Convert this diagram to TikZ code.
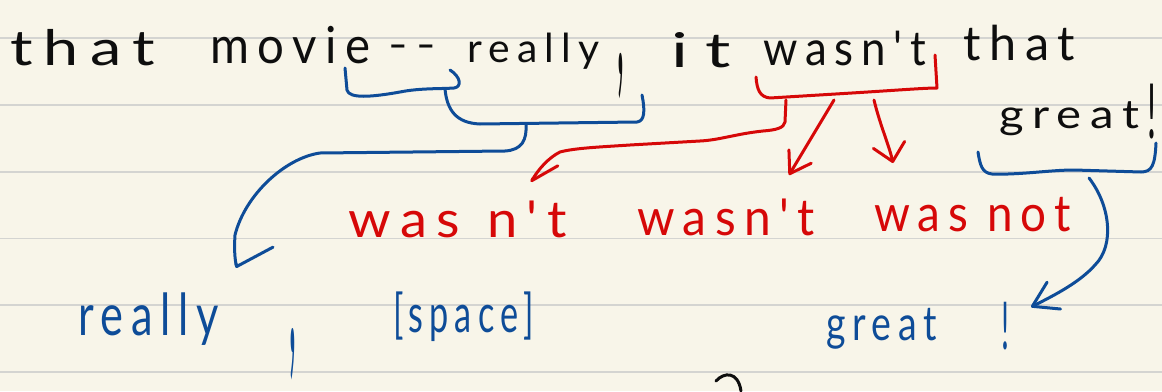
\documentclass[tikz,border=0pt]{standalone}
\usepackage{fontspec}
\usepackage{graphicx}
\usetikzlibrary{arrows.meta}
\newfontfamily\hand[LetterSpace=18]{Lato}
\newfontfamily\handp{Lato}
\definecolor{paper}{RGB}{248,245,233}
\definecolor{rulegray}{RGB}{212,212,209}
\definecolor{ink}{RGB}{14,14,14}
\definecolor{penred}{RGB}{214,8,8}
\definecolor{penblue}{RGB}{14,76,152}
% word stretched horizontally to a given width (pt) at a given font size (pt)
\newcommand\hw[3]{\resizebox{#1pt}{\height}{\hand\fontsize{#2pt}{#2pt}\selectfont #3}}
% tall, thin punctuation marks
\newcommand\bigcomma[1]{\scalebox{0.5}[#1]{\handp\fontsize{60pt}{60pt}\selectfont ,}}
\newcommand\thinbang[2]{\resizebox{#1pt}{\height}{\handp\fontsize{#2pt}{#2pt}\selectfont !}}
\tikzset{
  word/.style={inner sep=0pt, outer sep=0pt, anchor=base west},
  blk/.style={word, text=ink},
  rd/.style={word, text=penred},
  bl/.style={word, text=penblue},
  pen/.style={line width=3pt, line cap=round, line join=round},
  bluepen/.style={pen, draw=penblue},
  redpen/.style={pen, draw=penred},
  blackpen/.style={pen, draw=ink},
  ruled/.style={draw=rulegray, line width=1.6pt},
}
\begin{document}
\begin{tikzpicture}[x=1pt,y=-1pt]
\useasboundingbox (0,0) rectangle (1162,391);
\fill[paper] (0,0) rectangle (1162,391);
% notebook rules
\foreach \yy in {38,105,172,238.5,305,372} \draw[ruled] (0,\yy) -- (1162,\yy);

% the sentence
\node[blk] (that1) at (10,65) {\hw{145}{49}{that}};
\node[blk] (movie) at (210,63) {\hw{160}{51}{movie}};
\node[blk, anchor=center] (dash) at (412,52) {\hw{48}{40}{{-}\,{-}}};
\node[blk] (really1) at (467,62) {\hw{133}{40}{really}};
\node[blk, anchor=base] (comma1) at (621,74) {\bigcomma{3}};
\node[blk] (it) at (671,67) {\hw{60}{48}{i\hspace{0.25em}t}};
\node[blk] (wasnt) at (763,65) {\hw{163}{48}{wasn't}};
\node[blk] (that2) at (963,60) {\hw{112}{48}{that}};
\node[blk] (great1) at (999,128) {\hw{140}{40}{great}};
\node[blk, anchor=base] (bang1) at (1152,138) {\thinbang{9}{76}};

% red alternatives
\node[rd] (opt1) at (348,237) {\hw{219}{51}{was\hspace{0.5em}n't}};
\node[rd] (opt2) at (637,235) {\hw{178}{51}{wasn't}};
\node[rd] (opt3) at (874,231) {\hw{197}{51}{was\hspace{0.4em}not}};

% blue tokens
\node[bl] (really2) at (78,335) {\hw{141}{58}{really}};
\node[bl, anchor=base] (comma2) at (293,352) {\bigcomma{3.4}};
\node[bl] (space) at (393,332) {\hw{141}{53}{[space]}};
\node[bl] (great2) at (826,340) {\hw{111}{48}{great}};
\node[bl, anchor=base] (bang2) at (1005,349) {\thinbang{8}{66}};

% bracket points and arrow tips
\coordinate (bA) at (445,89);
\coordinate (bB) at (526,124);
\coordinate (rA) at (786,100);
\coordinate (rB) at (834,100);
\coordinate (rC) at (874,100);
\coordinate (gA) at (1089,178);
\coordinate (tipReally) at (237,268);
\coordinate (tipOpt1) at (531,182);
\coordinate (tipOpt2) at (789,175);
\coordinate (tipOpt3) at (893,163);
\coordinate (tipGreat) at (1031,307);

% blue brackets
\draw[bluepen] (345,68) -- (347,90) .. controls (349,99) and (372,97) .. (400,92)
  .. controls (420,88) and (440,89) .. (454,88) .. controls (462,87) and (461,77) .. (450,70);
\draw[bluepen] (bA) .. controls (447,110) and (456,123) .. (480,124) -- (637,122)
  .. controls (645,121) and (645,110) .. (642,95);
\draw[bluepen, -{Straight Barb[harpoon, length=10pt, width=80pt, round]}]
  (bB) .. controls (527,140) and (522,150) .. (505,151) -- (320,153)
  .. controls (285,158) and (245,195) .. (235,235) .. controls (234,250) and (235,260) .. (tipReally);

% red bracket and its three arrows
\draw[redpen] (756,77) .. controls (757,90) and (760,97) .. (770,98) -- (852,93)
  .. controls (900,90) and (925,88) .. (937,88) -- (935,55);
\draw[redpen, -{Straight Barb[harpoon, length=26pt, width=30pt, round]}]
  (rA) -- (785,122) .. controls (784,128) and (776,130) .. (763,131)
  .. controls (735,134) and (720,140) .. (700,141) -- (630,145)
  .. controls (600,147) and (575,148) .. (560,152) .. controls (548,158) and (538,170) .. (tipOpt1);
\draw[redpen, -{Straight Barb[length=20pt, width=26pt, round]}] (rB) -- (tipOpt2);
\draw[redpen, -{Straight Barb[length=17pt, width=32pt, round]}]
  (rC) .. controls (880,125) and (889,145) .. (tipOpt3);

% blue bracket under "great" and its arrow
\draw[bluepen] (978,152) .. controls (980,165) and (982,173) .. (992,174)
  .. controls (1020,175) and (1050,170) .. (1074,170) -- (1141,172)
  .. controls (1152,172) and (1155,165) .. (1156,143);
\draw[bluepen, -{Straight Barb[length=24pt, width=30pt, round]}]
  (gA) .. controls (1110,205) and (1115,245) .. (1095,265)
  .. controls (1080,282) and (1055,295) .. (tipGreat);

% stray stroke at the lower edge
\draw[blackpen] (716,381) .. controls (724,372) and (738,371) .. (741,391);
\end{tikzpicture}
\end{document}
